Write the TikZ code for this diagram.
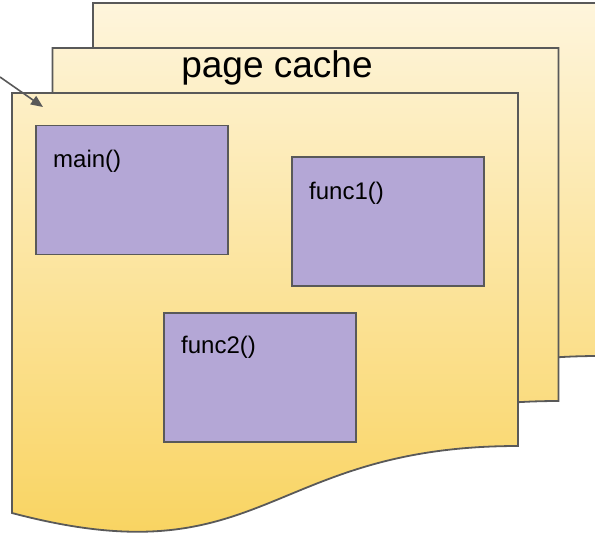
\documentclass[tikz,border=0pt]{standalone}
\usepackage{fontspec}
\setmainfont{Liberation Sans}
\usetikzlibrary{arrows.meta,positioning,calc}
\definecolor{pagetop}{RGB}{254,245,220}
\definecolor{pagebot}{RGB}{249,212,98}
\definecolor{funcfill}{RGB}{180,167,214}
\definecolor{edgegray}{RGB}{89,89,89}
\tikzset{
  pageln/.style={draw=edgegray, line width=1.8pt, line join=miter},
  funcbox/.style={draw=edgegray, line width=1.8pt, fill=funcfill,
    minimum width=192pt, minimum height=129pt, inner sep=0pt, anchor=north west},
  funclbl/.style={font=\fontsize{24}{28}\selectfont, anchor=west, inner sep=0pt},
  ptrln/.style={-{Triangle[length=12pt,width=10pt]}, line width=1.6pt, edgegray},
}
% one sheet of the stack, top left corner at #1
\newcommand{\docpage}[1]{%
  \begin{scope}[shift={#1}]
    \begin{scope}
      \clip (0,0) -- (506,0) -- (506,353)
        .. controls (253,353) and (253,487) .. (0,420) -- cycle;
      \shade[top color=pagetop, bottom color=pagebot, shift={($-1*#1$)}]
        (0,3) rectangle (595,532);
    \end{scope}
    \draw[pageln] (0,0) -- (506,0) -- (506,353)
      .. controls (253,353) and (253,487) .. (0,420) -- cycle;
  \end{scope}
}

\begin{document}
\begin{tikzpicture}[x=1pt, y=-1pt]
  \useasboundingbox (0,0) rectangle (595,536);
  % stack of pages, back to front
  \docpage{(93,3)}
  \docpage{(52.5,48)}
  \docpage{(12,93)}
  \node[font=\fontsize{37}{42}\selectfont, inner sep=0pt] (title) at (277,68) {page cache};
  % functions in the front page
  \node[funcbox] (main) at (35,124.5) {};
  \node[funcbox] (func1) at (291,156) {};
  \node[funcbox] (func2) at (163,312) {};
  \node[funclbl] (mainlbl) at ([shift={(18,37)}]main.north west) {main()};
  \node[funclbl] (func1lbl) at ([shift={(18,37)}]func1.north west) {func1()};
  \node[funclbl] (func2lbl) at ([shift={(18,35)}]func2.north west) {func2()};
  % pointer into the cache
  \coordinate (ptr) at (0,77);
  \coordinate (ptrtip) at (43,107);
  \draw[ptrln] (ptr) -- (ptrtip);
\end{tikzpicture}
\end{document}
